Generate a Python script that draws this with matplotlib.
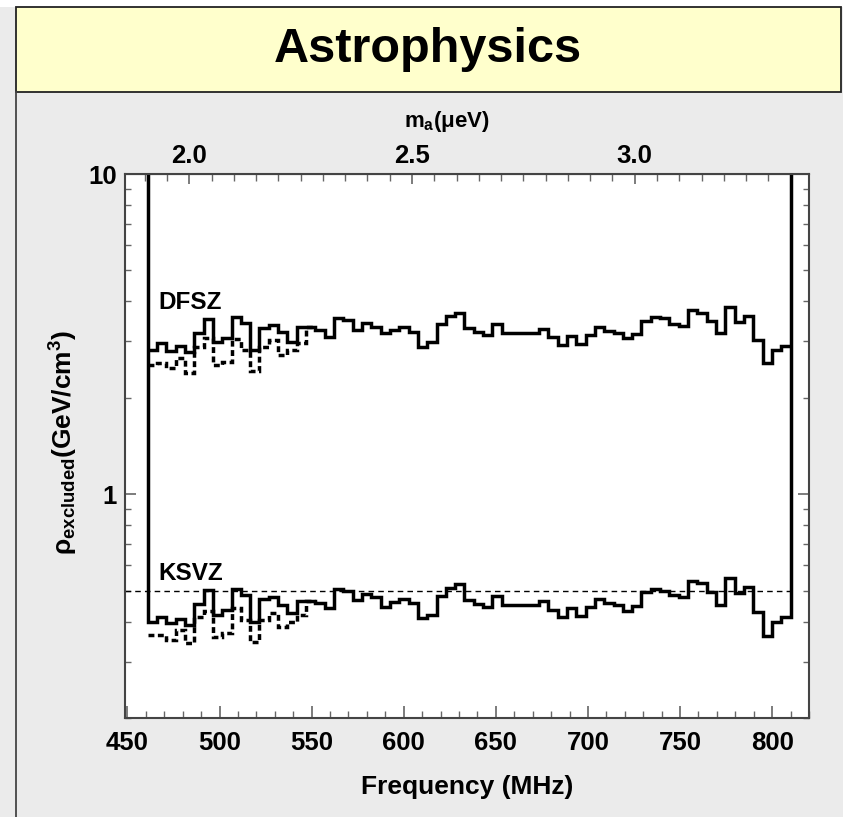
import matplotlib.pyplot as plt
import numpy as np
from matplotlib.ticker import MultipleLocator, FormatStrFormatter, NullFormatter, LogLocator
from matplotlib.patches import Rectangle
from matplotlib.lines import Line2D

plt.rcParams['font.family'] = ['Liberation Sans', 'DejaVu Sans']
plt.rcParams['font.weight'] = 'bold'
plt.rcParams['mathtext.fontset'] = 'custom'
plt.rcParams['mathtext.rm'] = 'Liberation Sans:bold'
plt.rcParams['mathtext.bf'] = 'Liberation Sans:bold'
plt.rcParams['mathtext.it'] = 'Liberation Sans:bold'

# data: excluded density per ~5 MHz bin, 461-810 MHz
f_lo, f_hi = 461, 810
dfsz_solid = [2.82, 2.97, 2.80, 2.90, 2.78, 3.18, 3.52, 2.99, 3.07, 3.57,
              3.42, 2.82, 3.30, 3.37, 3.21, 2.99, 3.33, 3.33, 3.25, 3.10,
              3.55, 3.50, 3.25, 3.42, 3.33, 3.18, 3.25, 3.33, 3.21, 2.88,
              2.99, 3.40, 3.60, 3.68, 3.30, 3.21, 3.14, 3.40, 3.18, 3.18,
              3.18, 3.18, 3.28, 3.10, 2.92, 3.12, 2.94, 3.14, 3.33, 3.23,
              3.18, 3.07, 3.16, 3.47, 3.57, 3.55, 3.40, 3.35, 3.76, 3.68,
              3.47, 3.18, 3.84, 3.45, 3.60, 3.03, 2.57, 2.82, 2.90]
ksvz_solid = [0.398, 0.413, 0.395, 0.407, 0.390, 0.453, 0.501, 0.419, 0.434, 0.505,
              0.483, 0.398, 0.470, 0.477, 0.450, 0.425, 0.463, 0.463, 0.456, 0.441,
              0.505, 0.498, 0.467, 0.487, 0.477, 0.443, 0.460, 0.470, 0.456, 0.410,
              0.419, 0.480, 0.509, 0.524, 0.467, 0.453, 0.443, 0.480, 0.450, 0.450,
              0.450, 0.450, 0.463, 0.434, 0.413, 0.441, 0.416, 0.443, 0.470, 0.456,
              0.450, 0.431, 0.447, 0.494, 0.505, 0.498, 0.483, 0.477, 0.535, 0.527,
              0.494, 0.450, 0.546, 0.491, 0.512, 0.428, 0.360, 0.398, 0.413]
# dashed curves, only differ over the first bins
dfsz_dashed = [2.53, 2.57, 2.48, 2.66, 2.39, 2.88, 3.07, 2.53, 2.59, 3.05,
               2.82, 2.42, 2.88, 3.03, 2.72, 2.82, 2.97, 3.33]
ksvz_dashed = [0.362, 0.362, 0.350, 0.376, 0.342, 0.413, 0.431, 0.357, 0.368, 0.441,
               0.404, 0.345, 0.404, 0.425, 0.384, 0.398, 0.419, 0.463]
halo_density = 0.5
mhz_to_uev = 4.1357e-3

edges = np.linspace(f_lo, f_hi, len(dfsz_solid) + 1)

W, H = 843, 817
fig = plt.figure(figsize=(W / 100, H / 100), dpi=100)
fig.patch.set_facecolor('#EBEBEB')

# header band
fig.patches.append(Rectangle((0, 1 - 7 / H), 1, 7 / H, transform=fig.transFigure,
                             facecolor='white', edgecolor='none'))
fig.patches.append(Rectangle((16 / W, 1 - 92 / H), (841 - 16) / W, 85 / H,
                             transform=fig.transFigure, facecolor='#FFFFCC',
                             edgecolor='#222222', lw=1.3))
fig.add_artist(Line2D([16 / W, 16 / W], [0, 1 - 92 / H], transform=fig.transFigure,
                      color='#444444', lw=1.3))
fig.text(428 / W, 1 - 50 / H, 'Astrophysics', fontsize=35, fontweight='bold',
         ha='center', va='center')

ax = fig.add_axes([125 / W, 1 - 718 / H, (809 - 125) / W, (718 - 174) / H])
ax.set_facecolor('white')
ax.set_yscale('log')
ax.set_xlim(448.7, 820)
ax.set_ylim(0.2, 10)

ax.stairs(ksvz_solid, edges, baseline=10, color='k', lw=2.5)
ax.stairs(dfsz_solid, edges, baseline=None, color='k', lw=2.5)
ax.stairs(dfsz_dashed, edges[:len(dfsz_dashed) + 1], baseline=None, color='k',
          lw=2.5, linestyle=(0, (1.7, 1.0)))
ax.stairs(ksvz_dashed, edges[:len(ksvz_dashed) + 1], baseline=None, color='k',
          lw=2.5, linestyle=(0, (1.7, 1.0)))
ax.hlines(halo_density, 448.7, f_hi, color='k', lw=1.0, linestyle=(0, (4, 3)))

ax.text(467, 3.98, 'DFSZ', fontsize=17.5, fontweight='bold', va='center')
ax.text(467, 0.566, 'KSVZ', fontsize=17.5, fontweight='bold', va='center')

for s in ax.spines.values():
    s.set_color('#444444')
    s.set_linewidth(1.5)

ax.xaxis.set_major_locator(MultipleLocator(50))
ax.xaxis.set_minor_locator(MultipleLocator(10))
ax.yaxis.set_major_locator(LogLocator(base=10))
ax.yaxis.set_minor_locator(LogLocator(base=10, subs=np.arange(2, 10)))
ax.yaxis.set_major_formatter(FormatStrFormatter('%g'))
ax.yaxis.set_minor_formatter(NullFormatter())
ax.tick_params(which='both', direction='in', top=False, right=True, color='#666666',
               labelsize=18.5)
ax.tick_params(axis='x', which='major', length=9, width=1.2, pad=9)
ax.tick_params(axis='x', which='minor', length=5, width=1.0)
ax.tick_params(axis='y', which='major', length=8, width=1.2, pad=6)
ax.tick_params(axis='y', which='minor', length=4.5, width=1.0)

top = ax.secondary_xaxis('top', functions=(lambda f: f * mhz_to_uev,
                                           lambda m: m / mhz_to_uev))
top.set_xticks([2.0, 2.5, 3.0])
top.xaxis.set_major_formatter(FormatStrFormatter('%.1f'))
top.xaxis.set_minor_locator(MultipleLocator(0.05))
top.tick_params(which='both', direction='in', color='#666666', labelsize=18.5)
top.tick_params(which='major', length=7, width=1.2, pad=4)
top.tick_params(which='minor', length=5, width=1.0)
top.spines['top'].set_color('#444444')

fig.text(447 / W, 1 - 122 / H, r'm$_{\rm a}$(μeV)', fontsize=16, fontweight='bold',
         ha='center', va='center')
fig.text(467 / W, 1 - 787 / H, 'Frequency (MHz)', fontsize=19, fontweight='bold',
         ha='center', va='center')
fig.text(64 / W, 1 - 442 / H, r'ρ$_{\rm excluded}$(GeV/cm$^{\rm 3}$)', fontsize=19,
         fontweight='bold', ha='center', va='center', rotation=90)

fig.savefig('out.png', dpi=100, facecolor=fig.get_facecolor())
